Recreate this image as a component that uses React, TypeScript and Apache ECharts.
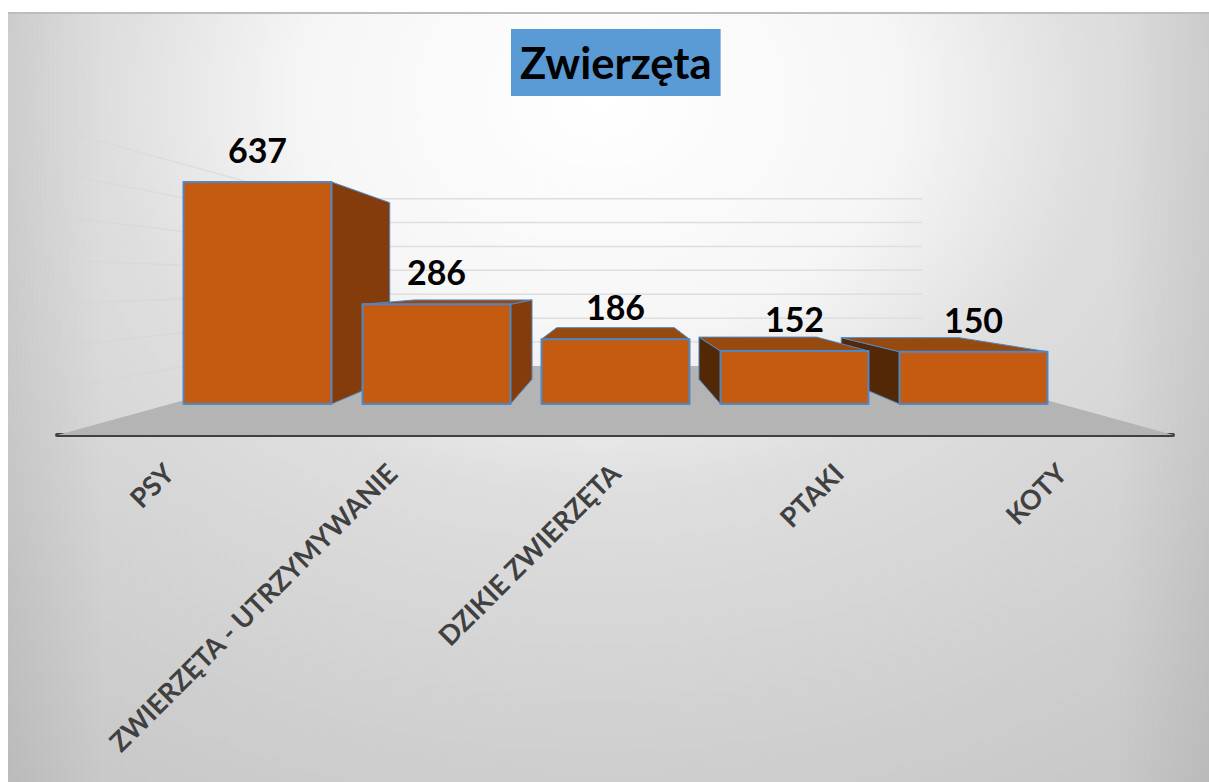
import React, { useEffect, useRef } from "react";
import * as echarts from "echarts";

const categories = ["PSY", "ZWIERZĘTA - UTRZYMYWANIE", "DZIKIE ZWIERZĘTA", "PTAKI", "KOTY"];
const values = [637, 286, 186, 152, 150];
const wallTicks = [100, 200, 300, 400, 500, 600, 700];

const FONT = "Lato, 'Open Sans', sans-serif";
const VANISH_VALUE = 347; // horizon of the perspective, in axis units
const BAR_DEPTH = 0.205;
const WALL_SCALE = 0.686;
const SIDE_WALL_SCALE = 1.2;
const FLOOR_X_SCALE = 1.247;
const FLOOR_Y_SCALE = 1.256;
const FACE = "#C55A11";
const RIGHT_SIDE = "#843C0C";
const LEFT_SIDE = "#532806";
const TOP_FACE = "#964A10";
const EDGE = "#4F88C6";
const BACK_SCALE_Y = 0.8;

function vanish(params: any, api: any) {
  const cs = params.coordSys;
  return [cs.x + cs.width / 2, api.coord([0, VANISH_VALUE])[1]];
}
const toward = (p: number[], vp: number[], k: number) => [vp[0] + (p[0] - vp[0]) * k, vp[1] + (p[1] - vp[1]) * k];

function renderFloor(params: any, api: any) {
  const cs = params.coordSys;
  const vp = vanish(params, api);
  const baseY = api.coord([0, 0])[1];
  const l = [cs.x, baseY];
  const r = [cs.x + cs.width, baseY];
  const front = (p: number[]) => [vp[0] + (p[0] - vp[0]) * FLOOR_X_SCALE, vp[1] + (p[1] - vp[1]) * FLOOR_Y_SCALE];
  return {
    type: "polygon",
    shape: { points: [front(l), front(r), toward(r, vp, WALL_SCALE), toward(l, vp, WALL_SCALE)] },
    style: { fill: "#B4B4B4" },
  };
}

function renderWallLine(params: any, api: any) {
  const cs = params.coordSys;
  const vp = vanish(params, api);
  const y = api.coord([0, api.value(1)])[1];
  const l = [cs.x, y];
  const r = [cs.x + cs.width, y];
  const a = toward(l, vp, WALL_SCALE);
  const b = toward(r, vp, WALL_SCALE);
  const c = toward(l, vp, SIDE_WALL_SCALE);
  return {
    type: "group",
    children: [
      { type: "line", shape: { x1: a[0], y1: a[1], x2: b[0], y2: b[1] }, style: { stroke: "#DEDEDE", lineWidth: 1.5 } },
      {
        type: "line",
        shape: { x1: a[0], y1: a[1], x2: c[0], y2: c[1] },
        style: {
          lineWidth: 1.5,
          stroke: {
            type: "linear",
            x: a[0],
            y: a[1],
            x2: c[0],
            y2: c[1],
            global: true,
            colorStops: [
              { offset: 0, color: "rgba(205,205,205,0.6)" },
              { offset: 1, color: "rgba(205,205,205,0.2)" },
            ],
          },
        },
      },
    ],
  };
}

function renderBar(params: any, api: any) {
  const vp = vanish(params, api);
  const i = api.value(0);
  const v = api.value(1);
  const w = api.size([1, 0])[0] * (148 / 179);
  const cx = api.coord([i, 0])[0];
  const y0 = api.coord([i, 0])[1];
  const y1 = api.coord([i, v])[1];
  const x0 = cx - w / 2;
  const x1 = cx + w / 2;
  const back = (p: number[]) => toward(p, vp, 1 - BAR_DEPTH);
  // outer bars are painted first, so the inner ones cover their sides
  const z2 = 10 - Math.abs(i - (categories.length - 1) / 2) * 2;
  const poly = (points: number[][], fill: string, lineWidth: number, extra = 0) => ({
    type: "polygon",
    z2: z2 + extra,
    shape: { points },
    style: { fill, stroke: EDGE, lineWidth, lineJoin: "round" },
  });
  const children: any[] = [];
  if (x1 < vp[0]) {
    children.push(poly([[x1, y1], back([x1, y1]), back([x1, y0]), [x1, y0]], RIGHT_SIDE, 1));
  }
  if (x0 > vp[0]) {
    children.push(poly([[x0, y1], back([x0, y1]), back([x0, y0]), [x0, y0]], LEFT_SIDE, 1));
  }
  if (y1 > vp[1]) {
    children.push(poly([[x0, y1], [x1, y1], back([x1, y1]), back([x0, y1])], TOP_FACE, 1));
  }
  children.push(poly([[x0, y1], [x1, y1], [x1, y0], [x0, y0]], FACE, 2, 0.5));
  children.push({
    type: "text",
    z2: 30,
    x: cx,
    y: y1 - 32.5,
    style: {
      text: String(v),
      x: 0,
      y: 0,
      align: "center",
      verticalAlign: "middle",
      fill: "#000000",
      font: `bold 34px ${FONT}`,
    },
  });
  return { type: "group", children };
}

export default function App() {
  const ref = useRef<HTMLDivElement>(null);
  useEffect(() => {
    document.body.style.margin = "0";
    const chart = echarts.init(ref.current!, null, { renderer: "svg" });
    chart.setOption({
      animation: false,
      backgroundColor: "#ffffff",
      title: {
        text: "Zwierzęta",
        left: 511,
        top: 29,
        padding: [11, 9, 12, 9],
        backgroundColor: "#5B9BD5",
        textStyle: { color: "#000000", fontFamily: FONT, fontWeight: "bold", fontSize: 43.5, lineHeight: 44 },
      },
      graphic: [
        {
          type: "rect",
          z: 0,
          scaleY: BACK_SCALE_Y,
          shape: { x: 8, y: 12 / BACK_SCALE_Y, width: 1201, height: 770 / BACK_SCALE_Y },
          style: {
            fill: {
              type: "radial",
              x: 600,
              y: 100 / BACK_SCALE_Y,
              r: 1100,
              global: true,
              colorStops: [
                { offset: 0, color: "#ffffff" },
                { offset: 0.27, color: "#f6f6f6" },
                { offset: 0.45, color: "#dedede" },
                { offset: 0.77, color: "#cecece" },
                { offset: 1, color: "#c4c4c4" },
              ],
            },
          },
        },
        {
          type: "rect",
          z: 0,
          shape: { x: 8, y: 12, width: 1201, height: 770 },
          style: {
            fill: {
              type: "linear",
              x: 0,
              y: 0,
              x2: 1,
              y2: 0,
              colorStops: [
                { offset: 0, color: "rgba(0,0,0,0.06)" },
                { offset: 0.08, color: "rgba(0,0,0,0)" },
                { offset: 0.92, color: "rgba(0,0,0,0)" },
                { offset: 1, color: "rgba(0,0,0,0.06)" },
              ],
            },
          },
        },
        { type: "rect", z: 0, shape: { x: 8, y: 12, width: 1201, height: 2 }, style: { fill: "#bdbdbd" } },
      ],
      grid: [
        { left: 168, width: 895, top: 160, height: 244 },
        { left: 57, width: 1116, top: 300, height: 135 },
      ],
      xAxis: [
        { gridIndex: 0, type: "category", data: categories, show: false },
        {
          gridIndex: 1,
          type: "category",
          data: categories,
          axisLine: { show: true, lineStyle: { color: "#404040", width: 4 } },
          axisTick: { show: false },
          axisLabel: {
            interval: 0,
            rotate: 45,
            margin: 33,
            color: "#404040",
            fontFamily: FONT,
            fontWeight: 700,
            fontSize: 27,
            hideOverlap: false,
          },
        },
      ],
      yAxis: [
        { gridIndex: 0, type: "value", min: 0, max: 700, interval: 100, show: false },
        { gridIndex: 1, type: "value", min: 0, max: 1, show: false },
      ],
      series: [
        {
          type: "custom",
          name: "floor",
          xAxisIndex: 0,
          yAxisIndex: 0,
          z: 1,
          renderItem: renderFloor,
          data: [[0, 0]],
          silent: true,
        },
        {
          type: "custom",
          name: "wall",
          xAxisIndex: 0,
          yAxisIndex: 0,
          z: 1,
          renderItem: renderWallLine,
          data: wallTicks.map((t) => [0, t]),
          silent: true,
        },
        {
          type: "custom",
          name: "Zwierzęta",
          xAxisIndex: 0,
          yAxisIndex: 0,
          z: 3,
          renderItem: renderBar,
          data: values.map((v, i) => [i, v]),
          encode: { x: 0, y: 1 },
        },
      ],
    });
    return () => chart.dispose();
  }, []);
  return <div ref={ref} style={{ position: "fixed", left: 0, top: 0, width: 1209, height: 782 }} />;
}
